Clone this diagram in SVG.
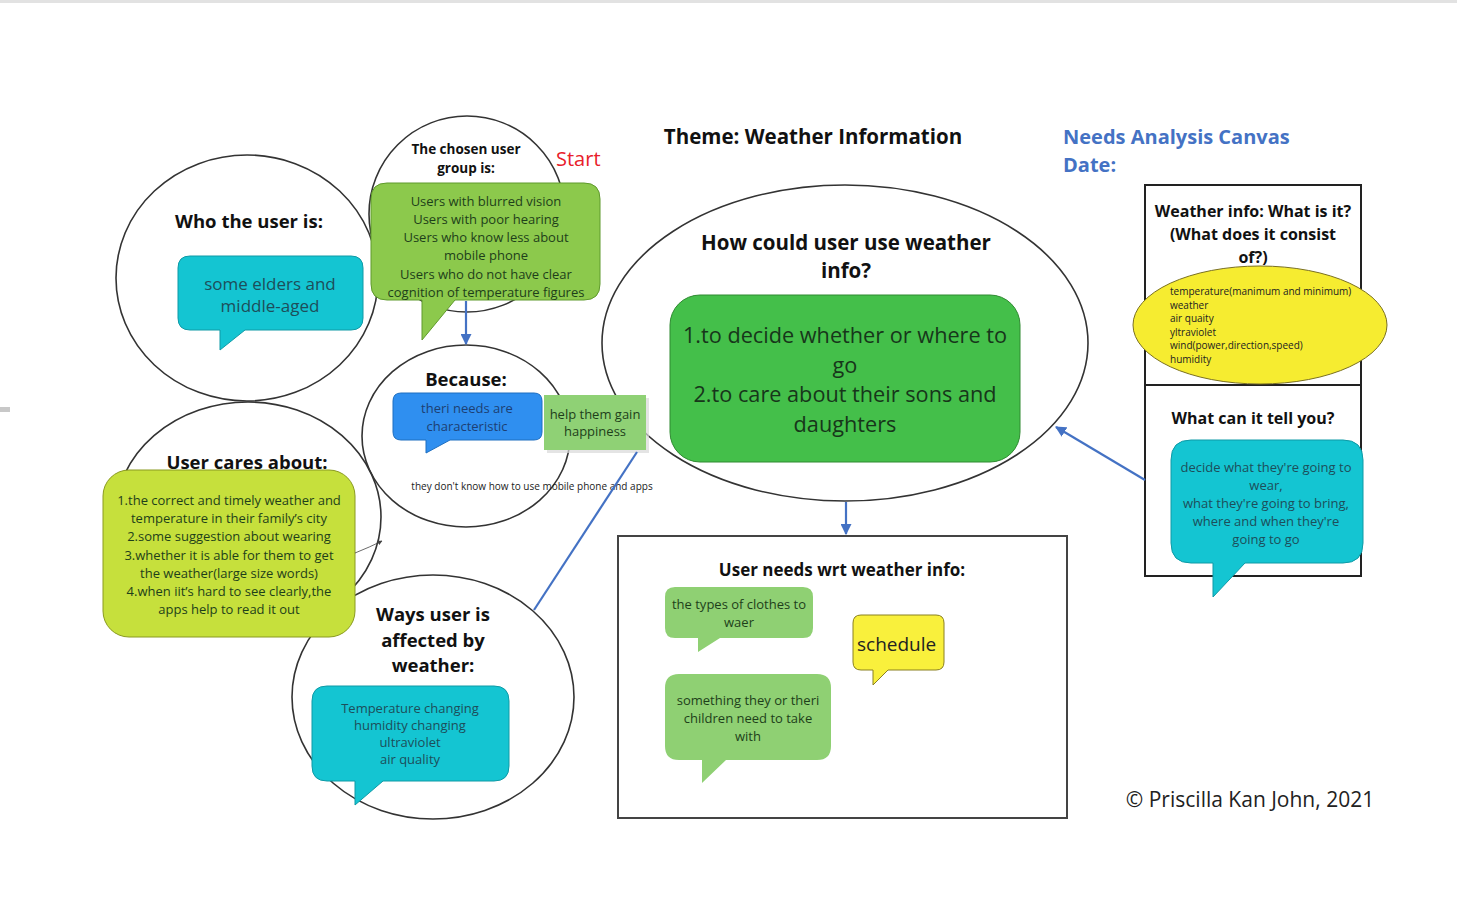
<svg xmlns="http://www.w3.org/2000/svg" width="1457" height="916" viewBox="0 0 1457 916">
<defs>
<marker id="ah" viewBox="0 0 10 10" refX="9" refY="5" markerWidth="5" markerHeight="5" orient="auto-start-reverse"><path d="M0,0 L10,5 L0,10 Z" fill="#4472c4"/></marker>
<marker id="ahs" viewBox="0 0 10 10" refX="9" refY="5" markerWidth="6" markerHeight="6" orient="auto"><path d="M0,0 L10,5 L0,10 Z" fill="#444"/></marker>
</defs>
<style>
text{font-family:'Open Sans','Noto Sans','Liberation Sans',sans-serif;text-anchor:middle}
.ring{fill:none;stroke:#333;stroke-width:1.6}
.h{font-weight:700;font-size:18.5px;fill:#111}
.h16{font-weight:700;font-size:16px;fill:#111}
.t13{font-size:13px}
.teal{fill:#14c5d2;stroke:#0e9aa6;stroke-width:1}
.tealt{fill:#1d4e5a}
.lg{fill:#8fd073}
.lgt{fill:#1e3f1a}
.con{fill:none;stroke:#4472c4;stroke-width:2.2}
</style>
<rect width="1457" height="916" fill="#fff"/>
<rect x="0" y="0" width="1457" height="3" fill="#e2e2e2"/>
<rect x="0" y="407" width="10" height="5" fill="#c8c8c8"/>

<g id="title">
<text x="813" y="144" style="font-weight:700;font-size:20.5px;fill:#111">Theme: Weather Information</text>
<text x="1063" y="144" style="font-weight:700;font-size:20px;fill:#4472c4;text-anchor:start">Needs Analysis Canvas</text>
<text x="1063" y="172" style="font-weight:700;font-size:20px;fill:#4472c4;text-anchor:start">Date:</text>
<text x="556" y="166" style="font-size:20px;fill:#e8202a;text-anchor:start">Start</text>
<text x="1250" y="807" style="font-size:21px;fill:#222">© Priscilla Kan John, 2021</text>
</g>

<g id="ways">
<ellipse class="ring" cx="433" cy="697" rx="141" ry="122"/>
<text class="h" x="433" y="621">Ways user is</text>
<text class="h" x="433" y="647">affected by</text>
<text class="h" x="433" y="672">weather:</text>
<path class="teal" d="M327,686 H494 Q509,686 509,701 V766 Q509,781 494,781 H383 L355,805 L355,781 H327 Q312,781 312,766 V701 Q312,686 327,686 Z"/>
<text class="t13 tealt" x="410" y="713">Temperature changing</text>
<text class="t13 tealt" x="410" y="730">humidity changing</text>
<text class="t13 tealt" x="410" y="747">ultraviolet</text>
<text class="t13 tealt" x="410" y="764">air quality</text>
</g>

<g id="who">
<ellipse class="ring" cx="247" cy="278" rx="131" ry="123"/>
<text class="h" x="249" y="228">Who the user is:</text>
<path class="teal" d="M190,256 H351 Q363,256 363,268 V318 Q363,330 351,330 H245 L220,350 L220,330 H190 Q178,330 178,318 V268 Q178,256 190,256 Z"/>
<text x="270" y="290" style="font-size:17px" class="tealt">some elders and</text>
<text x="270" y="312" style="font-size:17px" class="tealt">middle-aged</text>
</g>

<g id="cares">
<ellipse class="ring" cx="248" cy="517" rx="133" ry="115"/>
<text class="h" x="247" y="469">User cares about:</text>
<rect x="103" y="470" width="252" height="167" rx="26" fill="#c6e03c" stroke="#8a9a20" stroke-width="1"/>
<g class="lgt">
<text class="t13" x="229" y="505">1.the correct and timely weather and</text>
<text class="t13" x="229" y="523">temperature in their family’s city</text>
<text class="t13" x="229" y="541">2.some suggestion about wearing</text>
<text class="t13" x="229" y="560">3.whether it is able for them to get</text>
<text class="t13" x="229" y="578">the weather(large size words)</text>
<text class="t13" x="229" y="596">4.when iit’s hard to see clearly,the</text>
<text class="t13" x="229" y="614">apps help to read it out</text>
</g>
</g>

<g id="chosen">
<ellipse class="ring" cx="467" cy="214" rx="98" ry="98"/>
<text x="466" y="154" style="font-weight:700;font-size:13.5px;fill:#111">The chosen user</text>
<text x="466" y="173" style="font-weight:700;font-size:13.5px;fill:#111">group is:</text>
<path d="M387,183 H584 Q600,183 600,199 V284 Q600,300 584,300 H455 L422,340 L422,300 H387 Q371,300 371,284 V199 Q371,183 387,183 Z" fill="#8cc94c" stroke="#5f9a2c" stroke-width="1"/>
<g class="lgt">
<text class="t13" x="486" y="206">Users with blurred vision</text>
<text class="t13" x="486" y="224">Users with poor hearing</text>
<text class="t13" x="486" y="242">Users who know less about</text>
<text class="t13" x="486" y="260">mobile phone</text>
<text class="t13" x="486" y="279">Users who do not have clear</text>
<text class="t13" x="486" y="297">cognition of temperature figures</text>
</g>
</g>

<g id="because">
<ellipse class="ring" cx="466" cy="436" rx="104" ry="91"/>
<text class="h" x="466" y="386">Because:</text>
<path d="M401,393 H534 Q542,393 542,401 V432 Q542,440 534,440 H450 L426,453 L426,440 H401 Q393,440 393,432 V401 Q393,393 401,393 Z" fill="#2f8ff0" stroke="#1f6fc0" stroke-width="1"/>
<text class="t13" x="467" y="413" fill="#1d3f73">theri needs are</text>
<text class="t13" x="467" y="431" fill="#1d3f73">characteristic</text>
<text x="532" y="490" style="font-size:10px;fill:#222">they don't know how to use mobile phone and apps</text>
</g>

<g id="howuse">
<ellipse class="ring" cx="845" cy="343" rx="243" ry="158"/>
<text x="846" y="250" style="font-weight:700;font-size:20.5px;fill:#111">How could user use weather</text>
<text x="846" y="278" style="font-weight:700;font-size:20.5px;fill:#111">info?</text>
<rect x="670" y="295" width="350" height="167" rx="30" fill="#44bf4a" stroke="#2e8a30" stroke-width="1"/>
<g style="font-size:21.7px;fill:#17361a">
<text x="845" y="343">1.to decide whether or where to</text>
<text x="845" y="373">go</text>
<text x="845" y="402">2.to care about their sons and</text>
<text x="845" y="432">daughters</text>
</g>
</g>

<g id="happiness">
<rect x="547" y="398" width="102" height="55" fill="#d8d8d8" opacity="0.7"/>
<rect x="544" y="395" width="102" height="55" fill="#8fd175"/>
<text class="t13 lgt" x="595" y="419">help them gain</text>
<text class="t13 lgt" x="595" y="436">happiness</text>
</g>

<g id="needs">
<rect x="618" y="536" width="449" height="282" fill="none" stroke="#444" stroke-width="2"/>
<text x="842" y="576" style="font-weight:700;font-size:17px;fill:#111">User needs wrt weather info:</text>
<path class="lg" d="M675,587 H803 Q813,587 813,597 V628 Q813,638 803,638 H720 L698,652 L698,638 H675 Q665,638 665,628 V597 Q665,587 675,587 Z"/>
<text class="t13 lgt" x="739" y="609">the types of clothes to</text>
<text class="t13 lgt" x="739" y="627">waer</text>
<path d="M861,615 H936 Q944,615 944,623 V662 Q944,670 936,670 H888 L873,685 L873,670 H861 Q853,670 853,662 V623 Q853,615 861,615 Z" fill="#f9f03c" stroke="#8a8020" stroke-width="1"/>
<text x="857" y="651" style="font-size:19px;fill:#222;text-anchor:start">schedule</text>
<path class="lg" d="M679,674 H817 Q831,674 831,688 V746 Q831,760 817,760 H726 L702,783 L702,760 H679 Q665,760 665,746 V688 Q665,674 679,674 Z"/>
<text class="t13 lgt" x="748" y="705">something they or theri</text>
<text class="t13 lgt" x="748" y="723">children need to take</text>
<text class="t13 lgt" x="748" y="741">with</text>
</g>

<g id="weatherinfo">
<rect x="1145" y="185" width="216" height="391" fill="none" stroke="#222" stroke-width="2"/>
<line x1="1145" y1="385" x2="1361" y2="385" stroke="#222" stroke-width="2"/>
<text class="h16" x="1253" y="217">Weather info: What is it?</text>
<text class="h16" x="1253" y="240">(What does it consist</text>
<text class="h16" x="1253" y="263">of?)</text>
<ellipse cx="1260" cy="325" rx="127" ry="59" fill="#f6ec30" stroke="#7a7020" stroke-width="1"/>
<g style="font-size:10px;fill:#222">
<text x="1170" y="295" style="text-anchor:start">temperature(manimum and minimum)</text>
<text x="1170" y="309" style="text-anchor:start">weather</text>
<text x="1170" y="322" style="text-anchor:start">air quaity</text>
<text x="1170" y="336" style="text-anchor:start">yltraviolet</text>
<text x="1170" y="349" style="text-anchor:start">wind(power,direction,speed)</text>
<text x="1170" y="363" style="text-anchor:start">humidity</text>
</g>
<text class="h16" x="1253" y="424">What can it tell you?</text>
<path class="teal" d="M1191,440 H1343 Q1363,440 1363,460 V543 Q1363,563 1343,563 H1245 L1213,597 L1213,563 H1191 Q1171,563 1171,543 V460 Q1171,440 1191,440 Z"/>
<text class="t13 tealt" x="1266" y="472">decide what they're going to</text>
<text class="t13 tealt" x="1266" y="490">wear,</text>
<text class="t13 tealt" x="1266" y="508">what they're going to bring,</text>
<text class="t13 tealt" x="1266" y="526">where and when they're</text>
<text class="t13 tealt" x="1266" y="544">going to go</text>
</g>

<g id="connectors">
<line class="con" x1="466" y1="301" x2="466" y2="344" marker-end="url(#ah)"/>
<line class="con" x1="846" y1="502" x2="846" y2="534" marker-end="url(#ah)"/>
<line class="con" x1="1145" y1="480" x2="1056" y2="427" marker-end="url(#ah)"/>
<line class="con" x1="637" y1="452" x2="534" y2="610"/>
<path d="M355,553 Q370,547 382,541" fill="none" stroke="#444" stroke-width="0.8" marker-end="url(#ahs)"/>
</g>
</svg>
